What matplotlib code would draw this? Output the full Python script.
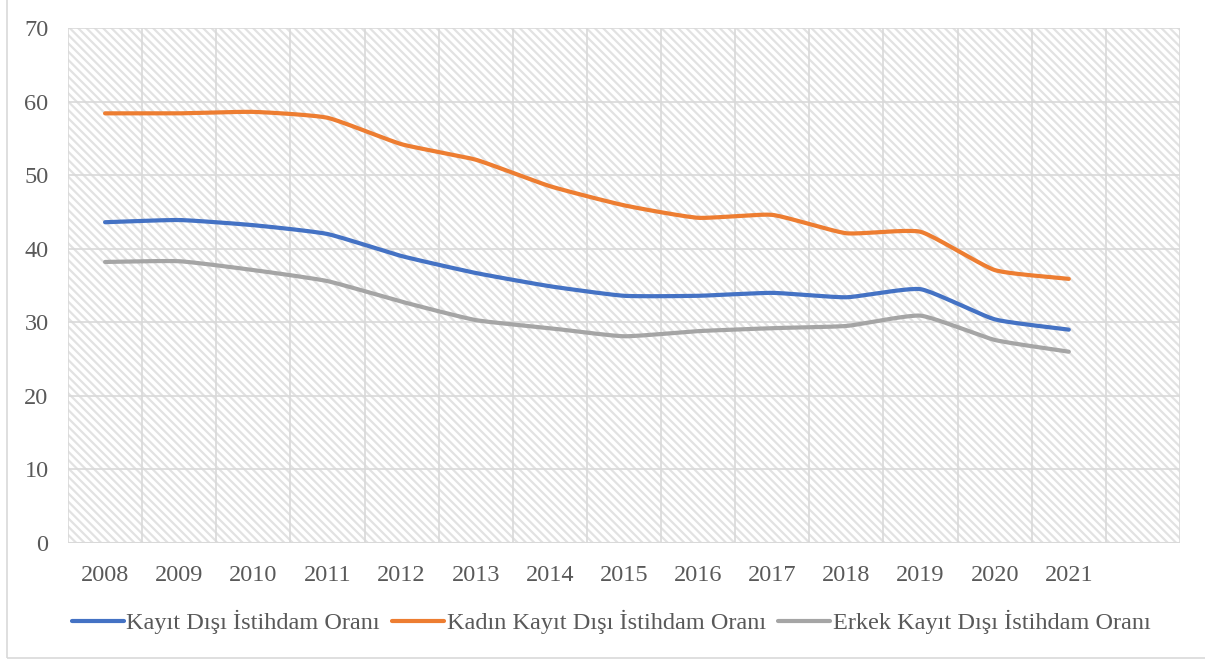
import numpy as np
import matplotlib
matplotlib.use("Agg")
import matplotlib.pyplot as plt
from matplotlib.patches import Rectangle

years = ["2008", "2009", "2010", "2011", "2012", "2013", "2014",
         "2015", "2016", "2017", "2018", "2019", "2020", "2021"]
kayit_disi = [43.6, 43.9, 43.2, 42.0, 39.0, 36.7, 34.9, 33.6, 33.6, 34.0, 33.4, 34.5, 30.4, 29.0]
kadin = [58.4, 58.4, 58.6, 57.8, 54.2, 52.1, 48.5, 45.9, 44.2, 44.6, 42.1, 42.3, 37.1, 35.9]
erkek = [38.2, 38.3, 37.1, 35.6, 32.8, 30.3, 29.2, 28.1, 28.8, 29.2, 29.5, 30.9, 27.6, 26.0]
labels = ["Kayıt Dışı İstihdam Oranı", "Kadın Kayıt Dışı İstihdam Oranı",
          "Erkek Kayıt Dışı İstihdam Oranı"]
colors = ["#4472C4", "#ED7D31", "#A5A5A5"]

plt.rcParams['font.family'] = ['Liberation Serif', 'DejaVu Serif']
plt.rcParams['hatch.linewidth'] = 1.6
plt.rcParams['hatch.color'] = '#e2e2e2'


def smooth(x, y, n=20, k=0.5):
    # low-tension cardinal spline rendering (Excel-style smoothed line) through the data points
    x = np.asarray(x, float); y = np.asarray(y, float)
    px = np.concatenate([[2 * x[0] - x[1]], x, [2 * x[-1] - x[-2]]])
    py = np.concatenate([[2 * y[0] - y[1]], y, [2 * y[-1] - y[-2]]])
    ox, oy = [], []
    t = np.linspace(0, 1, n, endpoint=False)
    h00 = 2 * t ** 3 - 3 * t ** 2 + 1
    h10 = t ** 3 - 2 * t ** 2 + t
    h01 = -2 * t ** 3 + 3 * t ** 2
    h11 = t ** 3 - t ** 2
    for i in range(1, len(px) - 2):
        for arr, out in ((px, ox), (py, oy)):
            p0, p1, p2, p3 = arr[i - 1], arr[i], arr[i + 1], arr[i + 2]
            m1 = k * (p2 - p0) / 2
            m2 = k * (p3 - p1) / 2
            out.extend(h00 * p1 + h10 * m1 + h01 * p2 + h11 * m2)
    ox.append(x[-1]); oy.append(y[-1])
    return np.array(ox), np.array(oy)


fig = plt.figure(figsize=(12.05, 6.61), dpi=100)
fig.patches.append(Rectangle((7 / 1205, 3 / 661), 1.2, 1.2, transform=fig.transFigure,
                             fill=False, edgecolor='#d9d9d9', linewidth=1.2, zorder=0))
ax = fig.add_axes([68 / 1205, 1 - 543 / 661, (1180 - 68) / 1205, (543 - 28) / 661])
ax.set_facecolor('white')
ax.add_patch(Rectangle((0, 0), 1, 1, transform=ax.transAxes, facecolor='white',
                       edgecolor='#e2e2e2', hatch='\\\\\\\\', linewidth=0, zorder=0))

x = np.arange(len(years))
for data, lab, c in zip([kayit_disi, kadin, erkek], labels, colors):
    sx, sy = smooth(x, data)
    ax.plot(sx, sy, color=c, linewidth=3, label=lab, solid_capstyle='round', zorder=3)

ax.set_xlim(-0.5, 14.5)
ax.set_ylim(0, 70)
ax.set_yticks(range(0, 71, 10))
ax.set_xticks(x)
ax.set_xticklabels(years)
for v in np.arange(-0.5, 15, 1):
    ax.axvline(v, color='#d9d9d9', linewidth=1.2, zorder=1)
for v in range(10, 71, 10):
    ax.axhline(v, color='#d9d9d9', linewidth=1.2, zorder=1)
for s in ax.spines.values():
    s.set_visible(False)
ax.axhline(0, color='#d9d9d9', linewidth=1.5, zorder=2)
ax.tick_params(axis='both', length=0, labelsize=17.5, colors='#595959')
ax.tick_params(axis='x', pad=16)
ax.tick_params(axis='y', pad=14)

leg = fig.legend(loc='center', bbox_to_anchor=(0.507, 1 - 622 / 661), ncol=3, frameon=False,
                 fontsize=17.5, handlelength=2.15, handletextpad=0.1, columnspacing=0.5)
for t in leg.get_texts():
    t.set_color('#595959')

fig.savefig('out.png', dpi=100)
